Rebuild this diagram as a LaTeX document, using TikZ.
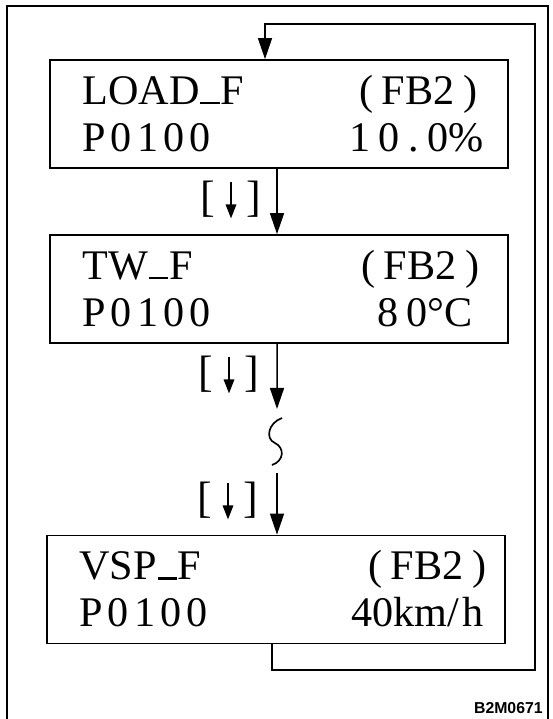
\documentclass[tikz,border=0pt]{standalone}
\usepackage{fontspec}
\setmainfont{Liberation Serif}
\newfontfamily\tagfont{Liberation Sans}
\newfontfamily\wideserif[LetterSpace=12]{Liberation Serif}
\newfontfamily\widerserif[LetterSpace=20]{Liberation Serif}
\usetikzlibrary{calc,arrows.meta,positioning}
\newcommand{\uscore}{\kern0.02em\rule{0.46em}{0.055em}\kern0.02em}
\newcommand{\keydown}{[\kern0.24em\tikz[baseline=0pt]\draw[line width=0.9pt,-{Triangle[length=8pt,width=6pt]}] (0,0.68em) -- (0,-0.16em);\kern0.24em]}
\tikzset{
  panel/.style={draw,line width=1pt,minimum width=9.16cm,minimum height=2.16cm,inner sep=0pt},
  lcd/.style={inner sep=0pt,anchor=base west,font=\fontsize{24}{28}\selectfont},
  lcdr/.style={lcd,anchor=base east},
  keylabel/.style={inner sep=0pt,font=\fontsize{25}{28}\selectfont},
  flow/.style={line width=0.85pt,-{Triangle[length=12pt,width=8pt]}},
}

\begin{document}
\begin{tikzpicture}[x=0.02cm,y=-0.02cm]
\useasboundingbox (0,0) rectangle (553,719);
\draw[line width=1pt] (7,719) -- (7,6) -- (548,6) -- (548,719);

\node[panel] (load) at (279,114) {};
\node[panel] (tw) at (279,289) {};
\node[panel] (vsp) at (276,589.5) {};

\node[lcd] (loadname) at ($(load.north west)+(33,45)$) {LOAD\uscore F};
\node[lcd] (loadunit) at ($(load.north west)+(310,45)$) {(\kern.2em FB2\kern.2em)};
\node[lcd] (loadcode) at ($(load.north west)+(33,92)$) {\wideserif P0100};
\node[lcdr] (loadval) at ($(load.north east)+(-25,92)$) {{\widerserif 10.0}\%};

\node[lcd] (twname) at ($(tw.north west)+(33,45)$) {TW\uscore F};
\node[lcd] (twunit) at ($(tw.north west)+(312,45)$) {(\kern.2em FB2\kern.2em)};
\node[lcd] (twcode) at ($(tw.north west)+(33,92)$) {\wideserif P0100};
\node[lcdr] (twval) at ($(tw.north east)+(-36,92)$) {8\kern.18em 0°C};

\node[lcd] (vspname) at ($(vsp.north west)+(33,45)$) {VSP\uscore F};
\node[lcd] (vspunit) at ($(vsp.north west)+(322,45)$) {(\kern.2em FB2\kern.2em)};
\node[lcd] (vspcode) at ($(vsp.north west)+(33,92)$) {\wideserif P0100};
\node[lcdr] (vspval) at ($(vsp.north east)+(-22,92)$) {40km/\kern.08em h};

\node[keylabel] (key1) at (231,200) {\keydown};
\node[keylabel] (key2) at (229,375) {\keydown};
\node[keylabel] (key3) at (228,501) {\keydown};

\coordinate (gaptop) at (277,409);
\coordinate (gapbot) at (277,473);
\coordinate (loopbr) at (535,670);
\coordinate (looptr) at (535,24);

\draw[flow] ([xshift=-0.04cm]load.south) -- ([xshift=-0.04cm]tw.north);
\draw[flow] ([xshift=-0.04cm]tw.south) -- (gaptop);
\draw[line width=0.95pt] (282,418) .. controls (268,423) and (265,439) .. (275,443) .. controls (285,448) and (284,461) .. (272,465);
\draw[flow] (gapbot) -- ([xshift=0.02cm]vsp.north);
\draw[flow] ([xshift=-0.08cm]vsp.south) |- (loopbr) -- (looptr) -| ([xshift=-0.28cm]load.north);

\node[font=\tagfont\bfseries\fontsize{9}{10}\selectfont,anchor=base east,inner sep=0pt] (tag) at (543,713) {B2M0671};
\end{tikzpicture}
\end{document}
